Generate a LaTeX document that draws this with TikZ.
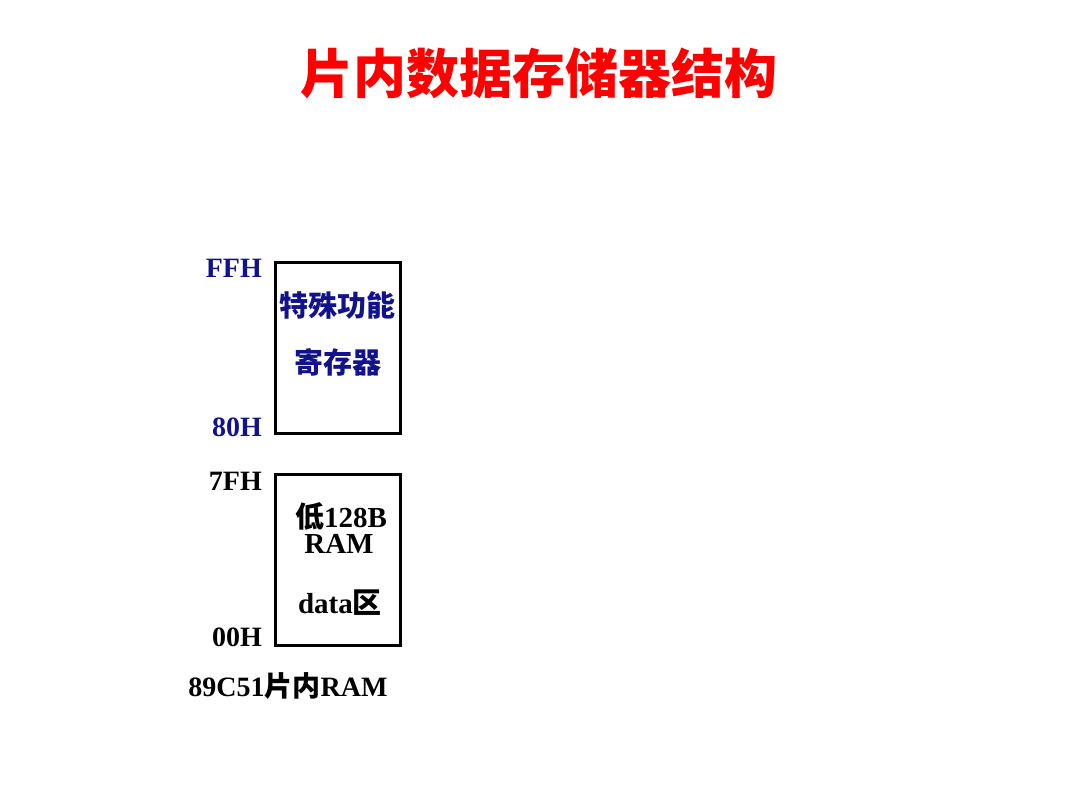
\documentclass[tikz,border=0pt]{standalone}
\usepackage{fontspec}
\setmainfont{Liberation Serif}
\newfontfamily\cjk{Noto Sans CJK SC}
\usetikzlibrary{positioning}
\definecolor{ttlRed}{HTML}{FF0000}
\definecolor{sfrBlue}{HTML}{12128C}

\begin{document}
\begin{tikzpicture}[x=1pt,y=-1pt,
  every node/.style={font=\fontsize{28}{32}\selectfont\bfseries,inner sep=0pt},
  membox/.style={draw,line width=3pt,minimum width=125pt,minimum height=171pt},
  addr/.style={anchor=east},
  boxtxt/.style={font=\fontsize{29}{33}\selectfont\bfseries}]
  \useasboundingbox (0,0) rectangle (1080,810);
  % title
  \node[ttlRed,font=\fontsize{53}{60}\selectfont\cjk\bfseries] (title) at (539,73) {片内数据存储器结构};
  % upper 128 bytes: SFR
  \node[membox] (sfr) at (337.5,348) {};
  \node[addr,sfrBlue] (ffh) at (262,268.5) {FFH};
  \node[addr,sfrBlue] (h80) at (262,427.5) {80H};
  \node[boxtxt,sfrBlue] (sfrA) at (337.5,305) {\cjk 特殊功能};
  \node[boxtxt,sfrBlue] (sfrB) at (337.5,362) {\cjk 寄存器};
  % lower 128 bytes: data
  \node[membox] (ram) at (337.5,560) {};
  \node[addr] (h7f) at (262,481) {7FH};
  \node[addr] (h00) at (262,637.5) {00H};
  \node[boxtxt] (ramA) at (341,517) {{\cjk 低}128B};
  \node[boxtxt] (ramB) at (339,544) {RAM};
  \node[boxtxt] (ramC) at (340,603) {data{\cjk 区}};
  \node (cap) at (288,686) {89C51{\cjk 片内}RAM};
\end{tikzpicture}
\end{document}
